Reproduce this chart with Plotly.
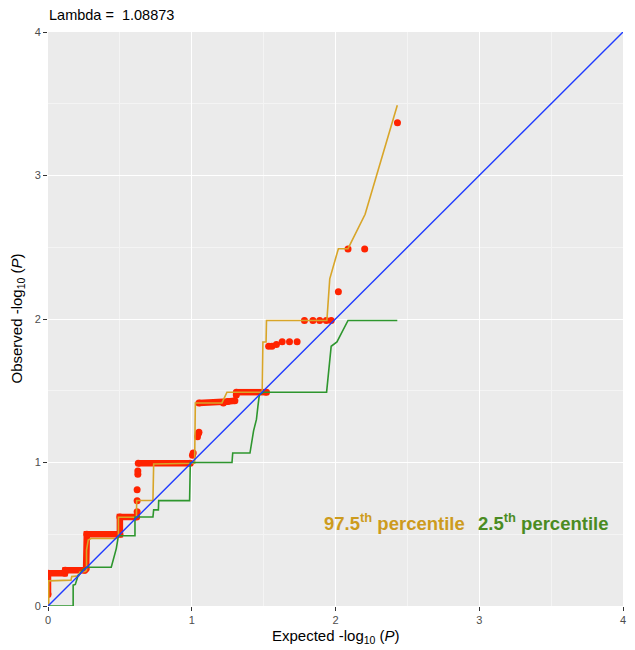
import plotly.graph_objects as go

# ---- data ----
# observed (red) dense staircase runs; None separates pieces
obs_run_x = [0.0, 0.0, 0.117, 0.12, 0.255, 0.265, 0.27, 0.50, 0.50, 0.617, None,
             0.628, 0.99, None,
             1.05, 1.22, 1.25, 1.30, None,
             1.31, 1.52]
obs_run_y = [0.08, 0.228, 0.228, 0.25, 0.25, 0.26, 0.50, 0.50, 0.62, 0.62, None,
             0.995, 0.995, None,
             1.415, 1.415, 1.425, 1.43, None,
             1.49, 1.49]
# observed (red) individual points
obs_pt_x = [0.62, 0.62, 0.62, 0.625, 0.625, 1.005, 1.01, 1.04, 1.045, 1.05, 1.31,
            1.535, 1.558, 1.589, 1.629, 1.68, 1.733, 1.784, 1.843, 1.89, 1.936,
            1.97, 2.02, 2.087, 2.203, 2.431]
obs_pt_y = [0.657, 0.734, 0.81, 0.918, 0.94, 1.05, 1.066, 1.18, 1.2, 1.21, 1.47,
            1.81, 1.81, 1.823, 1.842, 1.842, 1.842, 1.99, 1.99, 1.99, 1.99,
            1.99, 2.19, 2.487, 2.487, 3.367]

# 97.5th percentile envelope
upper_x = [0.005, 0.005, 0.16, 0.165, 0.215, 0.22, 0.26, 0.268, 0.268, 0.28, 0.30,
           0.48, 0.49, 0.49, 0.615, 0.617, 0.73, 0.735, 1.02, 1.025, 1.21, 1.245,
           1.49, 1.495, 1.517, 1.52, 1.94, 1.96, 2.02, 2.087, 2.206, 2.43]
upper_y = [0.0, 0.175, 0.18, 0.205, 0.21, 0.235, 0.24, 0.25, 0.39, 0.46, 0.47,
           0.47, 0.49, 0.618, 0.618, 0.735, 0.735, 0.99, 0.995, 1.415, 1.415, 1.49,
           1.49, 1.84, 1.84, 1.99, 1.99, 2.28, 2.49, 2.49, 2.73, 3.49]

# 2.5th percentile envelope
lower_x = [0.0, 0.175, 0.175, 0.19, 0.21, 0.22, 0.24, 0.268, 0.44, 0.455, 0.466,
           0.475, 0.49, 0.605, 0.605, 0.73, 0.735, 0.768, 0.77, 0.985, 0.99, 1.28,
           1.285, 1.405, 1.43, 1.45, 1.46, 1.47, 1.50, 1.938, 1.97, 2.01, 2.087, 2.43]
lower_y = [0.0, 0.0, 0.145, 0.15, 0.215, 0.22, 0.25, 0.27, 0.27, 0.33, 0.366,
           0.40, 0.49, 0.49, 0.62, 0.62, 0.67, 0.67, 0.734, 0.734, 1.0, 1.0,
           1.066, 1.066, 1.22, 1.30, 1.39, 1.47, 1.49, 1.49, 1.81, 1.84, 1.99, 1.99]

diag = [0, 4]
tick_vals = [0, 1, 2, 3, 4]
tick_text = ["0", "1", "2", "3", "4"]
lambda_text = "Lambda =\u00a0\u00a01.08873"

RED = "#FF2300"
GOLD = "#D8A528"
GREEN = "#2E962E"
FONT = "Liberation Sans, Arial"

fig = go.Figure()
fig.add_trace(go.Scatter(x=obs_run_x, y=obs_run_y, mode="lines+markers",
                         line=dict(color=RED, width=6.5),
                         marker=dict(color=RED, size=7), hoverinfo="skip",
                         showlegend=False))
fig.add_trace(go.Scatter(x=obs_pt_x, y=obs_pt_y, mode="markers",
                         marker=dict(color=RED, size=7), showlegend=False))
fig.add_trace(go.Scatter(x=upper_x, y=upper_y, mode="lines",
                         line=dict(color=GOLD, width=1.6), showlegend=False))
fig.add_trace(go.Scatter(x=lower_x, y=lower_y, mode="lines",
                         line=dict(color=GREEN, width=1.6), showlegend=False))
fig.add_trace(go.Scatter(x=diag, y=diag, mode="lines",
                         line=dict(color="#1F3BFF", width=1.4), showlegend=False))

axis_common = dict(range=[0, 4], tickvals=tick_vals, ticktext=tick_text,
                   showgrid=True, gridcolor="white", gridwidth=1.1,
                   minor=dict(dtick=0.5, tick0=0, showgrid=True, gridcolor="#F4F4F4",
                              gridwidth=0.6, ticks=""),
                   zeroline=False, showline=False, ticks="outside", ticklen=4,
                   tickcolor="#333333", tickwidth=1, automargin=False,
                   tickfont=dict(family=FONT, size=11, color="#4D4D4D"),
                   fixedrange=True)

# the page body has an 8px margin, so the figure is sized to fit the window
fig.update_layout(
    width=627, height=642,
    margin=dict(l=40, r=12, t=24, b=44),
    paper_bgcolor="white", plot_bgcolor="#EBEBEB",
    font=dict(family=FONT, color="black"),
    xaxis=dict(**axis_common),
    yaxis=dict(**axis_common),
)

# title and axis titles
fig.add_annotation(x=0, y=1, xref="paper", yref="paper", xanchor="left",
                   yanchor="middle", yshift=17, text=lambda_text, showarrow=False,
                   borderpad=0, font=dict(size=14.5, color="black"))
fig.add_annotation(x=0.5, y=0, xref="paper", yref="paper", xanchor="center",
                   yanchor="top", yshift=-19,
                   text="Expected -log<sub>10</sub> (<i>P</i>)", showarrow=False,
                   font=dict(size=15, color="black"))
fig.add_annotation(x=0, y=0.5, xref="paper", yref="paper", xanchor="right",
                   yanchor="middle", xshift=-20, textangle=-90,
                   text="Observed -log<sub>10</sub> (<i>P</i>)", showarrow=False,
                   font=dict(size=15, color="black"))

fig.add_annotation(x=2.41, y=0.585, xref="x", yref="y",
                   text="<b>97.5<sup>th</sup> percentile</b>", showarrow=False,
                   font=dict(size=18.5, color="#CD9B1D"))
fig.add_annotation(x=3.44, y=0.585, xref="x", yref="y",
                   text="<b>2.5<sup>th</sup> percentile</b>", showarrow=False,
                   font=dict(size=18.5, color="#4A8B22"))

fig.write_html("out.html")
